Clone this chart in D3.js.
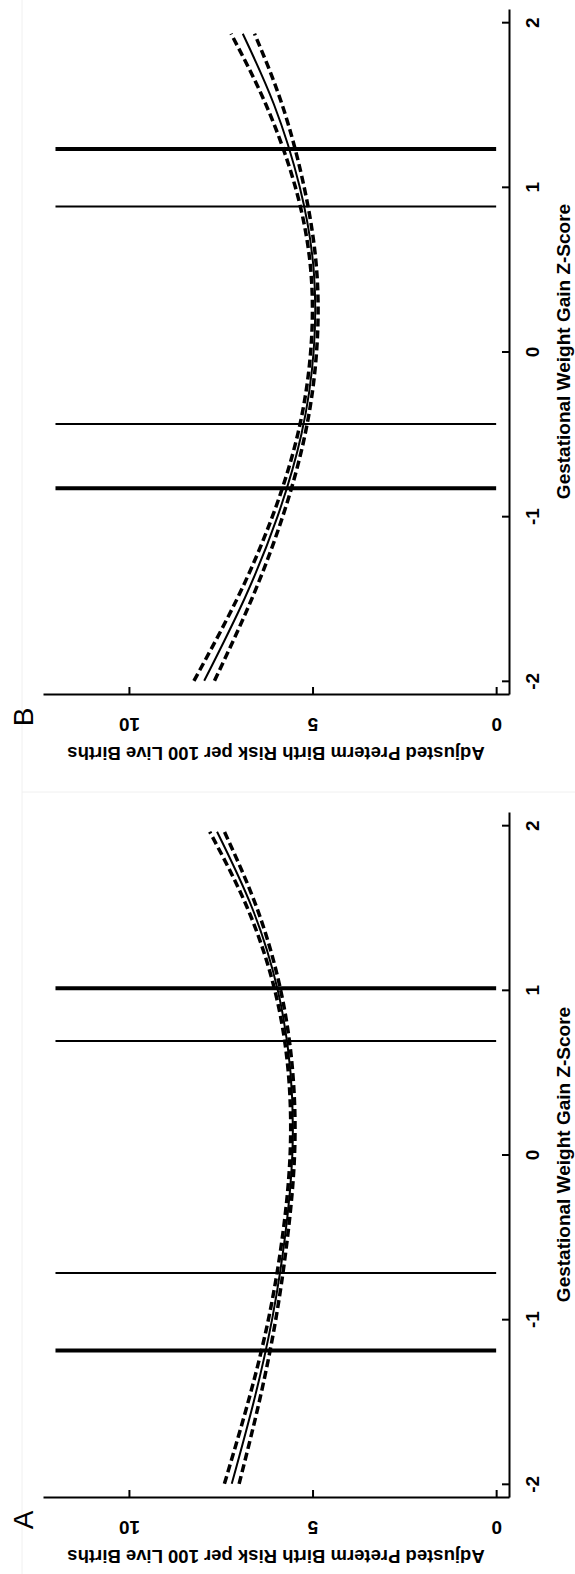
<!DOCTYPE html>
<html>
<head>
<meta charset="utf-8">
<script src="https://cdn.jsdelivr.net/npm/d3@7"></script>
<style>
  body { margin: 0; background: #fff; }
  svg { display: block; }
  text { font-family: "Liberation Sans", Arial, sans-serif; fill: #000; }
</style>
</head>
<body>
<div id="chart"></div>
<script>
const width = 575;
const height = 1574;

// z-score grid for each fitted curve
const zGridA = [-2, -1.5, -1, -0.5, 0, 0.5, 1, 1.5, 1.96];
const zGridB = [-2, -1.5, -1, -0.5, 0, 0.5, 1, 1.5, 1.93];

// panel A: adjusted risk and 95% limits
const riskA = [7.2, 6.6, 6.1, 5.75, 5.55, 5.6, 5.95, 6.65, 7.6];
const lowA  = [7.0, 6.45, 6.0, 5.68, 5.49, 5.54, 5.87, 6.52, 7.4];
const highA = [7.4, 6.75, 6.2, 5.82, 5.61, 5.66, 6.03, 6.78, 7.8];

// panel B: adjusted risk and 95% limits
const riskB = [7.95, 6.85, 5.95, 5.3, 4.97, 4.97, 5.35, 6.05, 6.9];
const lowB  = [7.67, 6.65, 5.81, 5.2, 4.89, 4.89, 5.23, 5.83, 6.58];
const highB = [8.23, 7.05, 6.09, 5.4, 5.05, 5.05, 5.47, 6.27, 7.22];

// vertical reference lines (z-scores)
const thickA = [-1.19, 1.01];
const thinA  = [-0.72, 0.69];
const thickB = [-0.83, 1.23];
const thinB  = [-0.44, 0.88];

const zTicks = [-2, -1, 0, 1, 2];
const riskTicks = [0, 5, 10];

const svg = d3.select("#chart")
  .append("svg")
  .attr("width", width)
  .attr("height", height);

// faint frame edges of the two panel images
svg.append("line")
  .attr("x1", 22).attr("x2", 22).attr("y1", 0).attr("y2", height)
  .attr("stroke", "#f0f0f0").attr("stroke-width", 1);
svg.append("line")
  .attr("x1", 22).attr("x2", width).attr("y1", 792).attr("y2", 792)
  .attr("stroke", "#f0f0f0").attr("stroke-width", 1);

// the figure is rotated: risk runs right-to-left, z-score bottom-to-top
const risk = d3.scaleLinear().domain([-0.35, 12.34]).range([509, 43]);

function drawPanel(offset, label, zGrid, est, low, high, thick, thin) {
  const g = svg.append("g").attr("transform", `translate(0,${offset})`);
  const z = d3.scaleLinear().domain([-2.08, 2.08]).range([694, 9]);

  const pts = arr => zGrid.map((v, i) => ({z: v, r: arr[i]}));
  const line = d3.line()
    .x(d => risk(d.r))
    .y(d => z(d.z))
    .curve(d3.curveNatural);

  // reference lines
  g.selectAll(".thick")
    .data(thick)
    .enter()
    .append("line")
    .attr("x1", risk(0)).attr("x2", risk(12))
    .attr("y1", d => z(d)).attr("y2", d => z(d))
    .attr("stroke", "#000").attr("stroke-width", 4);
  g.selectAll(".thin")
    .data(thin)
    .enter()
    .append("line")
    .attr("x1", risk(0)).attr("x2", risk(12))
    .attr("y1", d => z(d)).attr("y2", d => z(d))
    .attr("stroke", "#000").attr("stroke-width", 2);

  // confidence limits
  [low, high].forEach(arr => {
    g.append("path")
      .attr("d", line(pts(arr)))
      .attr("fill", "none")
      .attr("stroke", "#000")
      .attr("stroke-width", 3.5)
      .attr("stroke-dasharray", "8,4");
  });
  g.append("path")
    .attr("d", line(pts(est)))
    .attr("fill", "none")
    .attr("stroke", "#000")
    .attr("stroke-width", 2);

  // risk axis (drawn along the bottom)
  const rAxis = g.append("g")
    .attr("transform", "translate(0,694)")
    .call(d3.axisBottom(risk).tickValues(riskTicks).tickSize(-7).tickSizeOuter(0).tickFormat(d => String(d)));
  rAxis.selectAll("path, line").attr("stroke", "#000").attr("stroke-width", 2);
  rAxis.selectAll("text")
    .attr("y", 0).attr("dy", null)
    .attr("transform", "translate(0,30) rotate(180)")
    .attr("dominant-baseline", "central")
    .attr("font-size", 19).attr("font-weight", "bold");

  // z axis (drawn along the right side)
  const zAxis = g.append("g")
    .attr("transform", "translate(509,0)")
    .call(d3.axisRight(z).tickValues(zTicks).tickSize(-7).tickSizeOuter(0).tickFormat(d => String(d)));
  zAxis.selectAll("path, line").attr("stroke", "#000").attr("stroke-width", 2);
  zAxis.selectAll("text")
    .attr("x", 0).attr("dy", null)
    .attr("text-anchor", "middle")
    .attr("transform", "translate(23,0) rotate(-90)")
    .attr("dominant-baseline", "central")
    .attr("font-size", 19).attr("font-weight", "bold");

  g.append("text")
    .attr("transform", `translate(${(risk.range()[0] + risk.range()[1]) / 2},753) rotate(180)`)
    .attr("text-anchor", "middle")
    .attr("dominant-baseline", "central")
    .attr("font-size", 18.5).attr("font-weight", "bold")
    .text("Adjusted Preterm Birth Risk per 100 Live Births");

  g.append("text")
    .attr("transform", `translate(563,${z(0)}) rotate(-90)`)
    .attr("text-anchor", "middle")
    .attr("dominant-baseline", "central")
    .attr("font-size", 19).attr("font-weight", "bold")
    .text("Gestational Weight Gain Z-Score");

  g.append("text")
    .attr("transform", "translate(23,717) rotate(-90)")
    .attr("text-anchor", "middle")
    .attr("dominant-baseline", "central")
    .attr("font-size", 28)
    .text(label);
}

drawPanel(0, "B", zGridB, riskB, lowB, highB, thickB, thinB);
drawPanel(803, "A", zGridA, riskA, lowA, highA, thickA, thinA);
</script>
</body>
</html>
